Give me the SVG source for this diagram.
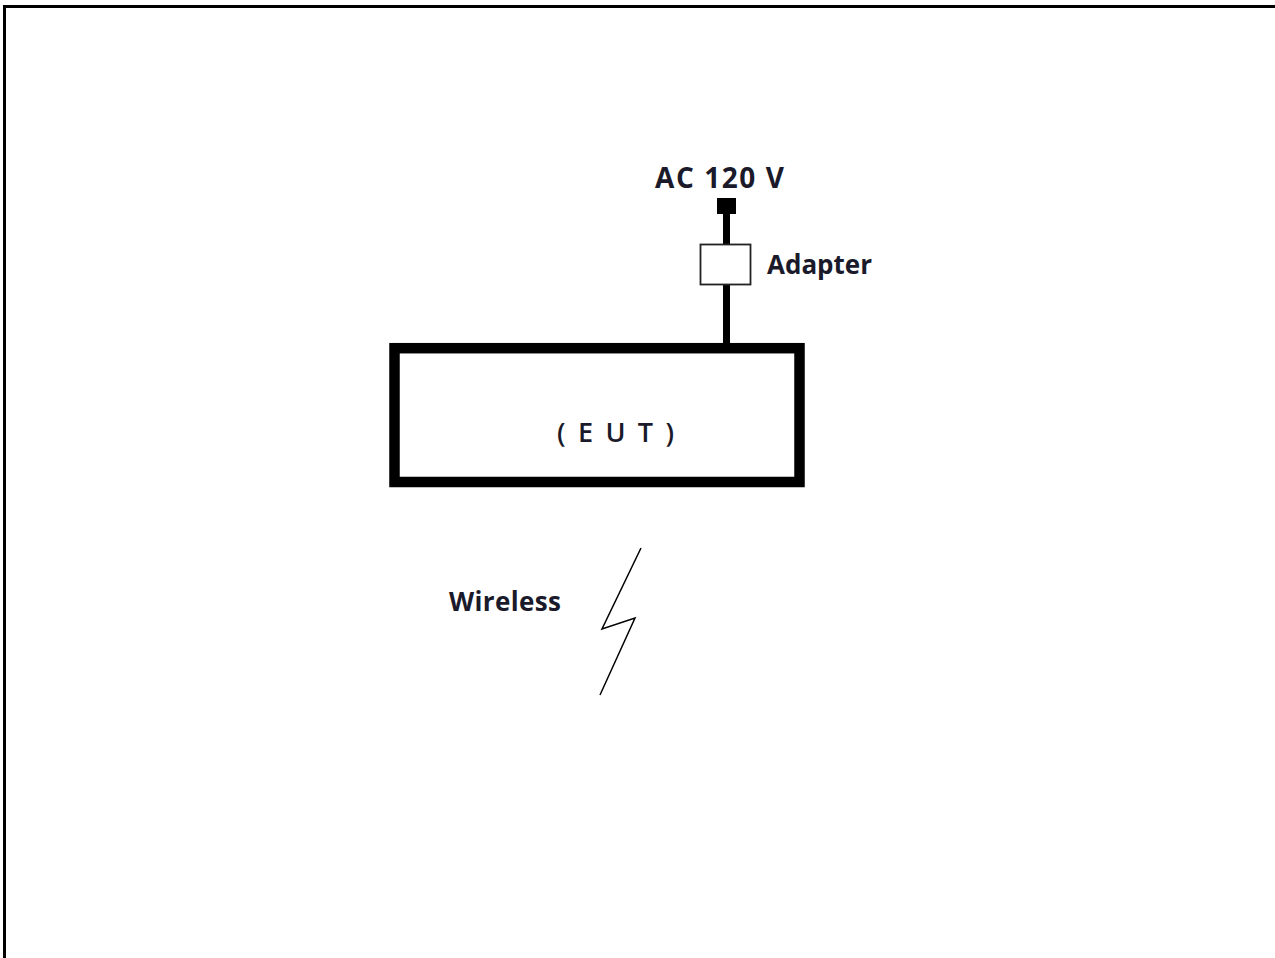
<svg xmlns="http://www.w3.org/2000/svg" width="1275" height="958" viewBox="0 0 1275 958">
<style>
.t{font-family:"Open Sans","Noto Sans",sans-serif;font-weight:700;fill:#1a1a2a;font-size:26px}
.w{fill:none;stroke:#000}
</style>
<rect width="1275" height="958" fill="#fff"/>
<g id="frame"><path class="w" stroke-width="3" d="M4.500 958V6.500H1275"/></g>
<g id="connectors">
<path class="w" stroke-width="7" d="M726.500 212V244M726.500 285V346"/>
</g>
<g id="eut">
<rect class="w" x="394.500" y="348.200" width="405" height="133.800" stroke-width="10.500"/>
<text class="t" x="557" y="442" style="font-weight:600;font-size:27px" textLength="117" lengthAdjust="spacing">( E U T )</text>
</g>
<g id="plug">
<rect x="717" y="198" width="19" height="16" fill="#000"/>
<text class="t" x="655" y="188" style="font-size:28px" textLength="129" lengthAdjust="spacing">AC 120 V</text>
</g>
<g id="adapter">
<rect x="700.500" y="244.500" width="50" height="40" fill="#fff" stroke="#222" stroke-width="1.800"/>
<text class="t" x="767" y="274" textLength="105" lengthAdjust="spacing">Adapter</text>
</g>
<g id="wireless">
<text class="t" x="449" y="611" textLength="112" lengthAdjust="spacing">Wireless</text>
<path class="w" stroke-width="1.500" stroke="#222" d="M641 548L602 629L635 618L600 695"/>
</g>
</svg>
